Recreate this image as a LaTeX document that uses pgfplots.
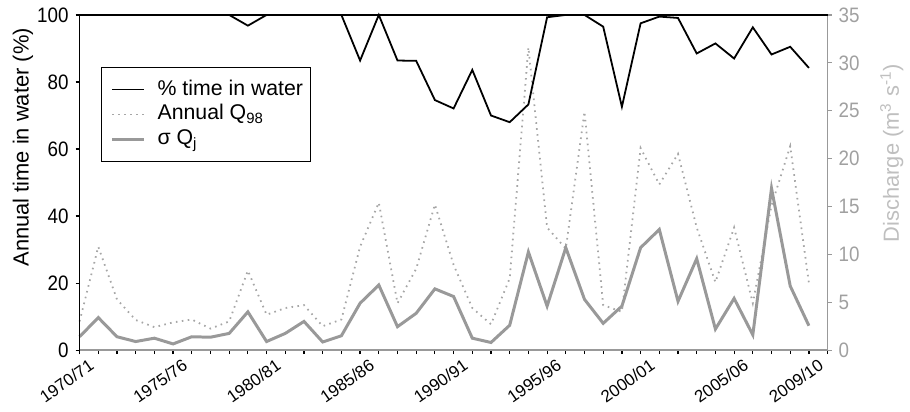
\documentclass[border=0pt]{standalone}
\usepackage{fontspec}
\setmainfont{Liberation Sans}
\newfontfamily\narrowfont[FakeStretch=0.9]{Liberation Sans}
\usepackage{pgfplots}
\pgfplotsset{compat=1.18}
\definecolor{sgray}{HTML}{999999}
\definecolor{dgray}{HTML}{A6A6A6}
\definecolor{lgray}{HTML}{BFBFBF}
\definecolor{tgray}{HTML}{A0A0A0}

\pgfplotstableread{
x pct q98 sig
0 100 3.0 1.4
1 100 10.8 3.4
2 100 5.3 1.4
3 100 3.15 0.9
4 100 2.4 1.25
5 100 2.9 0.65
6 100 3.2 1.4
7 100 2.25 1.35
8 100 3.0 1.75
9 96.8 8.3 4.0
10 100 3.7 0.9
11 100 4.4 1.75
12 100 4.7 3.0
13 100 2.5 0.85
14 100 3.2 1.5
15 86.4 10.8 4.9
16 100 15.4 6.8
17 86.4 4.9 2.45
18 86.3 8.5 3.85
19 74.6 15.2 6.4
20 72.1 8.9 5.6
21 83.6 4.4 1.25
22 70.0 2.7 0.8
23 68.0 7.5 2.6
24 73.3 31.6 10.25
25 99.3 12.8 4.6
26 100 10.6 10.7
27 100 24.9 5.3
28 96.5 4.7 2.8
29 72.6 4.0 4.6
30 97.5 21.1 10.7
31 99.5 17.3 12.6
32 99.1 20.5 5.1
33 88.5 12.8 9.55
34 91.5 7.1 2.2
35 87.0 12.8 5.4
36 96.3 4.9 1.6
37 88.2 15.1 16.9
38 90.5 21.3 6.7
39 84.2 7.0 2.55
}\datatable

\begin{document}
\begin{tikzpicture}[font=\fontsize{10.5}{12}\selectfont]
\pgfplotsset{
  base/.style={
    scale only axis, width=376pt, height=168.5pt,
    xmin=0, xmax=40, clip=false,
    /pgf/number format/assume math mode=true,
    tick align=outside, major tick length=2pt, minor tick length=2pt,
    yticklabel style={font=\narrowfont\fontsize{10.5}{12}\selectfont},
  },
  q98style/.style={dgray, line width=0.9pt, dash pattern=on 0.8pt off 2.2pt},
  sigstyle/.style={sgray, line width=1.5pt},
  pctstyle/.style={black, line width=0.9pt},
}
% right axis (discharge)
\begin{axis}[base,
  ymin=0, ymax=35,
  axis x line=none, axis y line*=right,
  ytick={0,5,...,35},
  y axis line style={-, sgray, line width=0.8pt},
  ytick style={sgray, line width=0.6pt},
  yticklabel style={tgray},
  ylabel={Discharge (m\textsuperscript{3} s\textsuperscript{-1})},
  every axis y label/.style={at={(axis description cs:1.0858,0.588)}, anchor=center, rotate=90, lgray, font=\fontsize{11}{13}\selectfont},
]
\addplot[q98style] table[x=x, y=q98] {\datatable};
\addplot[sigstyle] table[x=x, y=sig] {\datatable};
\end{axis}
% left axis (% time)
\begin{axis}[base,
  ymin=0, ymax=100,
  axis x line*=bottom, axis y line*=left,
  ytick={0,20,...,100},
  xtick={0,5,10,15,20,25,30,35,39},
  xticklabels={1970/71,1975/76,1980/81,1985/86,1990/91,1995/96,2000/01,2005/06,2009/10},
  minor xtick={0,...,40},
  x axis line style={-, sgray, line width=0.9pt},
  y axis line style={-, black, line width=0.8pt},
  xtick style={black, line width=0.6pt},
  ytick style={black, line width=0.6pt},
  xticklabel style={rotate=35, anchor=north east, inner sep=0pt, xshift=2.5pt, yshift=-4pt, font=\fontsize{8.5}{10}\selectfont},
  ylabel={Annual time in water (\%)},
  every axis y label/.style={at={(axis description cs:-0.0758,0.605)}, anchor=center, rotate=90, font=\fontsize{11}{13}\selectfont},
  legend cell align=left,
  legend image code/.code={\draw[#1] (0pt,0pt) -- (16pt,0pt);},
  legend style={at={(rel axis cs:0.029,0.846)}, anchor=north west,
    draw=black, line width=0.6pt, fill=white,
    font=\fontsize{10.7}{12.5}\selectfont,
    inner xsep=4.5pt, inner ysep=5pt, row sep=0pt, column sep=6pt,
    nodes={inner xsep=0pt, inner ysep=1pt, text height=8pt, text depth=2.5pt}},
]
\draw[black, line width=0.8pt] (rel axis cs:0,1) -- (rel axis cs:1,1);
\path (rel axis cs:0,1) ++(-40pt,7.5pt) coordinate (bbtl);
\path (rel axis cs:1,0) ++(39pt,-31pt) coordinate (bbbr);
\path (bbtl) rectangle (bbbr);
\addplot[pctstyle] table[x=x, y=pct] {\datatable};
\addlegendentry{\makebox[72.5pt][l]{\% time in water}}
\addlegendimage{q98style}
\addlegendentry{Annual Q\textsubscript{98}}
\addlegendimage{sigstyle}
\addlegendentry{σ Q\textsubscript{j}}
\end{axis}
\end{tikzpicture}
\end{document}
